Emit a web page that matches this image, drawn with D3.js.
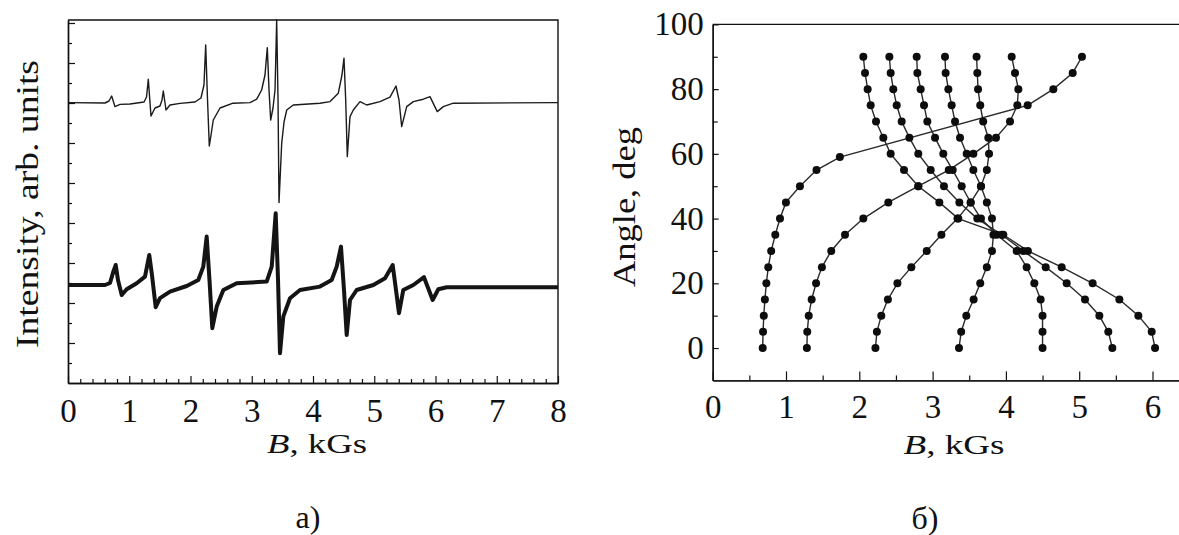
<!DOCTYPE html>
<html><head><meta charset="utf-8">
<script src="https://cdn.jsdelivr.net/npm/d3@7"></script>
<style>
html,body{margin:0;padding:0;background:#fff;}
svg{display:block;}
text{font-family:"Liberation Serif","Times New Roman",serif;fill:#111;}
</style></head>
<body>
<svg id="c" width="1179" height="535"></svg>
<script>
// ---------- Panel a) EPR spectra (B in kGs, intensity arb. units) ----------
const topB = [0,0.604,0.669,0.713,0.767,0.849,1.012,1.241,1.282,1.311,1.355,1.420,1.502,1.535,1.556,1.600,1.665,1.829,2.073,2.171,2.220,2.248,2.278,2.307,2.335,2.372,2.482,2.694,2.971,3.081,3.162,3.216,3.254,3.282,3.309,3.347,3.380,3.407,3.429,3.445,3.489,3.527,3.571,3.678,4.114,4.278,4.413,4.473,4.506,4.534,4.560,4.604,4.658,4.767,4.877,5.094,5.257,5.355,5.404,5.448,5.530,5.638,5.801,5.910,6.029,6.127,6.291,8.0];
const topI = [14.02,14.0,14.1,14.35,13.82,13.93,13.95,14.05,14.3,15.19,13.35,13.75,13.85,14.15,14.6,13.65,13.9,13.98,14.05,14.25,14.9,16.9,14.15,11.85,12.4,13.15,13.75,13.99,14.02,14.19,14.65,15.4,16.77,14.65,13.15,13.75,14.65,18.15,14.15,9.02,11.99,13.05,13.65,13.9,13.99,14.07,14.49,15.4,16.24,14.15,11.32,13.32,13.65,14.07,13.9,14.07,14.29,14.85,14.15,12.82,13.82,14.07,14.19,14.32,13.57,13.82,13.99,14.02];
const botB = [0,0.604,0.686,0.740,0.779,0.816,0.877,0.958,1.122,1.257,1.327,1.371,1.432,1.502,1.665,1.938,2.127,2.209,2.264,2.310,2.356,2.428,2.536,2.754,3.244,3.326,3.391,3.429,3.461,3.515,3.624,3.788,4.114,4.305,4.387,4.457,4.506,4.550,4.604,4.713,4.985,5.176,5.301,5.355,5.404,5.474,5.638,5.812,5.954,6.046,6.183,8.0];
const botI = [4.9,4.9,5.0,5.57,5.9,5.15,4.4,4.69,4.99,5.32,6.4,5.4,3.79,4.24,4.57,4.85,5.15,5.82,7.32,5.15,2.74,3.82,4.65,4.99,5.07,5.82,8.49,5.15,1.49,3.32,4.24,4.65,4.82,5.15,5.82,6.82,4.65,2.4,4.15,4.65,4.9,5.24,5.9,4.65,3.49,4.65,4.9,5.29,4.15,4.69,4.79,4.79];
const aXTicks = [0,1,2,3,4,5,6,7,8];

// ---------- Panel б) angular dependence (B in kGs vs angle in deg) ----------
const anglesAll = [0,5,10,15,20,25,30,35,40,45,50,55,60,65,70,75,80,85,90];
const anglesA = [0,5,10,15,20,25,30,35,40,45,50,55,59,75,80,85,90];
const lineA = [0.682,0.687,0.697,0.712,0.732,0.758,0.798,0.854,0.918,0.999,1.19,1.416,1.735,4.297,4.647,4.911,5.038];
const lineB = [1.285,1.29,1.31,1.35,1.41,1.49,1.617,1.805,2.055,2.396,2.805,3.22,3.556,3.865,4.056,4.156,4.17,4.124,4.079];
const lineC = [2.22,2.24,2.30,2.39,2.52,2.71,2.92,3.12,3.34,3.52,3.66,3.74,3.77,3.76,3.69,3.65,3.62,3.61,3.60];
const lineD = [3.36,3.39,3.46,3.56,3.65,3.74,3.81,3.83,3.81,3.74,3.66,3.556,3.465,3.374,3.306,3.26,3.215,3.178,3.169];
const lineE = [4.50,4.50,4.50,4.474,4.388,4.283,4.147,3.874,3.66,3.519,3.397,3.274,3.146,3.033,2.928,2.883,2.837,2.792,2.783];
const lineF = [5.452,5.397,5.275,5.079,4.829,4.543,4.238,3.942,3.61,3.365,3.155,2.974,2.805,2.683,2.578,2.51,2.464,2.428,2.41];
const lineG = [6.035,5.989,5.807,5.548,5.183,4.761,4.30,3.965,3.35,3.092,2.805,2.61,2.428,2.328,2.228,2.155,2.114,2.078,2.055];
const bXTicks = [0,1,2,3,4,5,6];
const bYTicks = [0,20,40,60,80,100];

const svg = d3.select("#c");
svg.append("rect").attr("width",1179).attr("height",535).attr("fill","#fff");
const ink = "#111";

// ===== Panel a =====
const xL = d3.scaleLinear().domain([0,8]).range([68,558]);
const yL = d3.scaleLinear().domain([0,18.15]).range([383,20]);
const gA = svg.append("g");

const minorA = d3.range(0,8.001,0.2).filter(v=>Math.abs(v-Math.round(v))>1e-6);
gA.append("g").attr("transform","translate(0,383)")
  .call(d3.axisBottom(xL).tickValues(minorA).tickSize(-4).tickSizeOuter(0).tickFormat(""));
const axA = gA.append("g").attr("transform","translate(0,383)")
  .call(d3.axisBottom(xL).tickValues(aXTicks).tickSize(-7).tickSizeOuter(0).tickFormat(d3.format("d")));
axA.selectAll("text").attr("y",27).attr("dy","0.35em").style("font-size","33px");

const yTicksA = d3.range(1,19);
gA.append("g").attr("transform","translate(68,0)")
  .call(d3.axisLeft(yL).tickValues(yTicksA.filter(v=>v%2===1)).tickSize(-4).tickSizeOuter(0).tickFormat(""));
gA.append("g").attr("transform","translate(68,0)")
  .call(d3.axisLeft(yL).tickValues(yTicksA.filter(v=>v%2===0)).tickSize(-7).tickSizeOuter(0).tickFormat(""));
gA.append("path").attr("d",`M${xL(0)},${yL(18.15)}H${xL(8)}V${yL(0)}`)
  .attr("fill","none").attr("stroke",ink).attr("stroke-width",1.4);

const lineL = d3.line().x(d=>xL(d[0])).y(d=>yL(d[1]));
gA.append("path").datum(d3.zip(topB,topI)).attr("d",lineL)
  .attr("fill","none").attr("stroke","#1a1a1a").attr("stroke-width",1.4).attr("stroke-linejoin","round");
gA.append("path").datum(d3.zip(botB,botI)).attr("d",lineL)
  .attr("fill","none").attr("stroke","#141414").attr("stroke-width",4).attr("stroke-linejoin","round");

gA.append("text").attr("transform","translate(38,204) rotate(-90)")
  .attr("text-anchor","middle").style("font-size","31px")
  .attr("textLength",288).attr("lengthAdjust","spacingAndGlyphs")
  .text("Intensity, arb. units");
const tA = gA.append("text").attr("x",317).attr("y",453).attr("text-anchor","middle")
  .style("font-size","28px").attr("textLength",100).attr("lengthAdjust","spacingAndGlyphs");
tA.append("tspan").style("font-style","italic").text("B");
tA.append("tspan").text(", kGs");

// ===== Panel b =====
const xR = d3.scaleLinear().domain([0,6.4]).range([712.7,712.7+6.4*73.3]);
const yR = d3.scaleLinear().domain([-10,100]).range([380.4,24.4]);
const gB = svg.append("g");

gB.append("g").attr("transform","translate(0,380.4)")
  .call(d3.axisBottom(xR).tickValues(d3.range(0.5,6.4,1)).tickSize(-5).tickSizeOuter(0).tickFormat(""));
const axB = gB.append("g").attr("transform","translate(0,380.4)")
  .call(d3.axisBottom(xR).tickValues(bXTicks).tickSize(-9).tickSizeOuter(0).tickFormat(d3.format("d")));
axB.selectAll("text").attr("y",26).attr("dy","0.35em").style("font-size","33px");

gB.append("g").attr("transform","translate(712.7,0)")
  .call(d3.axisLeft(yR).tickValues(d3.range(10,100,20)).tickSize(-5).tickSizeOuter(0).tickFormat(""));
const ayB = gB.append("g").attr("transform","translate(712.7,0)")
  .call(d3.axisLeft(yR).tickValues(bYTicks).tickSize(-6).tickSizeOuter(0).tickPadding(9).tickFormat(d3.format("d")));
ayB.selectAll("text").style("font-size","33px");
gB.append("line").attr("x1",xR(0)).attr("x2",1179).attr("y1",yR(100)).attr("y2",yR(100))
  .attr("stroke",ink).attr("stroke-width",1.4);

const series = [
  {ang:anglesA, b:lineA},
  {ang:anglesAll, b:lineB},
  {ang:anglesAll, b:lineC},
  {ang:anglesAll, b:lineD},
  {ang:anglesAll, b:lineE},
  {ang:anglesAll, b:lineF},
  {ang:anglesAll, b:lineG}
];
const lineR = d3.line().x(d=>xR(d[0])).y(d=>yR(d[1]));
series.forEach(s=>{
  const pts = d3.zip(s.b, s.ang);
  gB.append("path").datum(pts).attr("d",lineR)
    .attr("fill","none").attr("stroke","#2a2a2a").attr("stroke-width",1.4);
});
series.forEach(s=>{
  const pts = d3.zip(s.b, s.ang);
  gB.selectAll(null).data(pts).enter().append("circle")
    .attr("cx",d=>xR(d[0])).attr("cy",d=>yR(d[1])).attr("r",4).attr("fill","#0d0d0d");
});

gB.append("text").attr("transform","translate(635,207) rotate(-90)")
  .attr("text-anchor","middle").style("font-size","31px")
  .attr("textLength",160).attr("lengthAdjust","spacingAndGlyphs")
  .text("Angle, deg");
const tB = gB.append("text").attr("x",954).attr("y",454).attr("text-anchor","middle")
  .style("font-size","28px").attr("textLength",101).attr("lengthAdjust","spacingAndGlyphs");
tB.append("tspan").style("font-style","italic").text("B");
tB.append("tspan").text(", kGs");

svg.selectAll(".domain").attr("stroke",ink).attr("stroke-width",1.4);
svg.selectAll(".tick line").attr("stroke",ink).attr("stroke-width",1.2);

// captions
svg.append("text").attr("x",308).attr("y",528).attr("text-anchor","middle").style("font-size","32px").text("а)");
svg.append("text").attr("x",925).attr("y",529).attr("text-anchor","middle").style("font-size","32px").text("б)");
</script>
</body></html>
